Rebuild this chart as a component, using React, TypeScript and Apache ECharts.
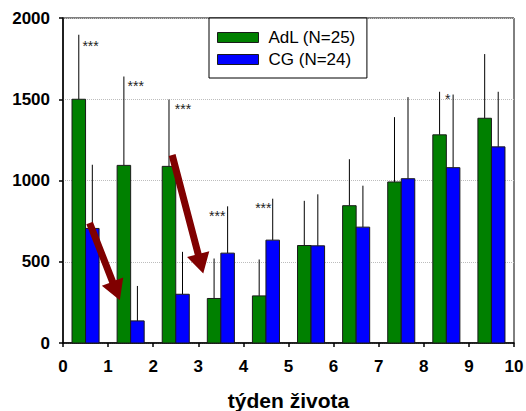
import React, { useEffect, useRef } from "react";
import * as echarts from "echarts";

const weeks = [1, 2, 3, 4, 5, 6, 7, 8, 9, 10];
const adlMean = [1500, 1093, 1087, 274, 290, 600, 845, 991, 1281, 1383];
const adlSD = [397, 547, 411, 246, 224, 275, 286, 399, 265, 395];
const cgMean = [705, 136, 300, 553, 633, 598, 713, 1011, 1079, 1207];
const cgSD = [392, 215, 261, 288, 255, 317, 255, 502, 450, 339];

const seriesNames = ["AdL (N=25)", "CG (N=24)"];
const xTicks = [0, 1, 2, 3, 4, 5, 6, 7, 8, 9, 10];
const yTicks = [0, 500, 1000, 1500, 2000];

const starX = [0.43, 1.43, 2.48, 3.24, 4.26, 8.47];
const starY = [1829, 1581, 1441, 783, 832, 1504];
const starText = ["***", "***", "***", "***", "***", "*"];

const arrowStartX = [0.59, 2.42];
const arrowStartY = [739, 1157];
const arrowTipX = [1.26, 3.11];
const arrowTipY = [263, 428];

const FONT = "Liberation Sans, Arial, Helvetica, sans-serif";
const GREEN = "#008000";
const BLUE = "#0000ff";
const ARROW = "#800000";

function barRender(color: string) {
  return (params: any, api: any) => {
    const x = api.value(0);
    const v = api.value(1);
    const sd = api.value(2);
    const half = 0.15;
    const p0 = api.coord([x - half, v]);
    const p1 = api.coord([x + half, 0]);
    const pt = api.coord([x, v + sd]);
    const pc = api.coord([x, v]);
    return {
      type: "group",
      children: [
        {
          type: "line",
          shape: { x1: pt[0], y1: pt[1], x2: pc[0], y2: pc[1] },
          style: { stroke: "#000", lineWidth: 1 },
        },
        {
          type: "rect",
          shape: { x: p0[0], y: p0[1], width: p1[0] - p0[0], height: p1[1] - p0[1] },
          style: { fill: color, stroke: "#1a1a1a", lineWidth: 1 },
        },
      ],
    };
  };
}

export default function App() {
  const ref = useRef<HTMLDivElement>(null);
  useEffect(() => {
    document.body.style.margin = "0";
    if (!ref.current) return;
    const chart = echarts.init(ref.current, undefined, { renderer: "svg" });

    const adlData = weeks.map((w, i) => [w - 0.65, adlMean[i], adlSD[i]]);
    const cgData = weeks.map((w, i) => [w - 0.35, cgMean[i], cgSD[i]]);
    const starData = starX.map((x, i) => [x, starY[i], i]);
    const arrowData = arrowStartX.map((x, i) => [x, arrowStartY[i], arrowTipX[i], arrowTipY[i]]);

    const option: any = {
      animation: false,
      grid: {
        left: 63,
        right: 12,
        top: 18,
        bottom: 68,
        containLabel: false,
        outerBoundsMode: "none",
        show: true,
        borderColor: "#000",
        borderWidth: 1,
        backgroundColor: "transparent",
      },
      legend: {
        orient: "vertical",
        left: 209,
        top: 18,
        backgroundColor: "#fff",
        borderColor: "#000",
        borderWidth: 1,
        padding: [11, 11, 10, 8],
        itemWidth: 41,
        itemHeight: 10,
        itemGap: 5,
        textStyle: { fontSize: 17, fontFamily: FONT, color: "#000", padding: [0, 0, 0, 5] },
        itemStyle: { borderColor: "#1a1a1a", borderWidth: 1 },
        data: [
          { name: seriesNames[0], icon: "rect" },
          { name: seriesNames[1], icon: "rect" },
        ],
      },
      xAxis: {
        type: "value",
        min: 0,
        max: 10,
        interval: 1,
        name: "týden života",
        nameLocation: "middle",
        nameGap: 47,
        nameTextStyle: { fontSize: 21, fontWeight: "bold", fontFamily: FONT, color: "#000" },
        axisLine: { show: true, lineStyle: { color: "#000", width: 1.5 } },
        axisTick: { show: true, length: 4, lineStyle: { color: "#000", width: 1.5 } },
        axisLabel: {
          margin: 15,
          fontSize: 17,
          fontWeight: "bold",
          fontFamily: FONT,
          color: "#000",
          formatter: (v: number) => (xTicks.indexOf(v) >= 0 ? String(v) : ""),
        },
        splitLine: { show: false },
      },
      yAxis: {
        type: "value",
        min: 0,
        max: 2000,
        interval: 500,
        axisLine: { show: true, lineStyle: { color: "#000", width: 1.5 } },
        axisTick: { show: true, length: 4, lineStyle: { color: "#000", width: 1.5 } },
        axisLabel: {
          margin: 13,
          fontSize: 17,
          fontWeight: "bold",
          fontFamily: FONT,
          color: "#000",
          formatter: (v: number) => (yTicks.indexOf(v) >= 0 ? String(v) : ""),
        },
        splitLine: { show: true, lineStyle: { color: "#bdbdbd", type: "dotted", width: 1 } },
      },
      series: [
        {
          name: seriesNames[0],
          type: "custom",
          renderItem: barRender(GREEN),
          itemStyle: { color: GREEN },
          data: adlData,
          z: 3,
        },
        {
          name: seriesNames[1],
          type: "custom",
          renderItem: barRender(BLUE),
          itemStyle: { color: BLUE },
          data: cgData,
          z: 3,
        },
        {
          name: "stars",
          type: "custom",
          data: starData,
          z: 4,
          renderItem: (params: any, api: any) => {
            const p = api.coord([api.value(0), api.value(1)]);
            const idx = api.value(2);
            return {
              type: "text",
              x: p[0],
              y: p[1],
              style: {
                text: starText[idx],
                fontSize: 14,
                fontFamily: FONT,
                fill: "#222",
                align: "left",
                verticalAlign: "middle",
              },
            };
          },
        },
        {
          name: "arrows",
          type: "custom",
          data: arrowData,
          z: 5,
          renderItem: (params: any, api: any) => {
            const s = api.coord([api.value(0), api.value(1)]);
            const t = api.coord([api.value(2), api.value(3)]);
            const dx = t[0] - s[0];
            const dy = t[1] - s[1];
            const len = Math.sqrt(dx * dx + dy * dy);
            const ux = dx / len;
            const uy = dy / len;
            const nx = -uy;
            const ny = ux;
            const headLen = 20;
            const hh = 11.5;
            const sh = 3.5;
            const bx = t[0] - ux * headLen;
            const by = t[1] - uy * headLen;
            const points = [
              [s[0] + nx * sh, s[1] + ny * sh],
              [bx + nx * sh, by + ny * sh],
              [bx + nx * hh, by + ny * hh],
              [t[0], t[1]],
              [bx - nx * hh, by - ny * hh],
              [bx - nx * sh, by - ny * sh],
              [s[0] - nx * sh, s[1] - ny * sh],
            ];
            return {
              type: "polygon",
              shape: { points },
              style: { fill: ARROW, stroke: "none" },
            };
          },
        },
      ],
    };
    chart.setOption(option);
    return () => chart.dispose();
  }, []);
  return <div ref={ref} style={{ width: 526, height: 411 }} />;
}
